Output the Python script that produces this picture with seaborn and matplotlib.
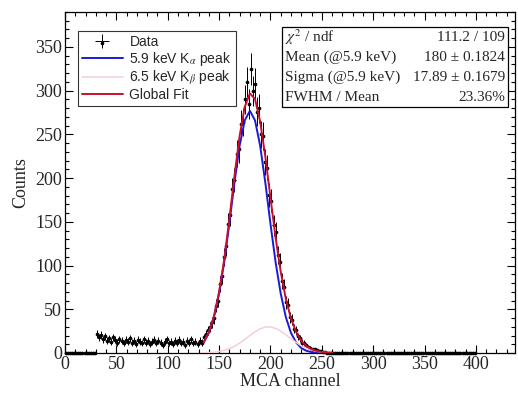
import numpy as np
import pandas as pd
import matplotlib
matplotlib.use("Agg")
import matplotlib.pyplot as plt
from matplotlib.patches import Rectangle
from matplotlib.ticker import MultipleLocator
import seaborn as sns

# MCA spectrum, 2-channel bins (centres 1, 3, ..., 399)
bin_centres = np.arange(1, 400, 2)
counts = [
    0, 0, 0, 0, 0, 0, 0, 0, 0, 0, 0, 0, 0, 0, 0,
    # noise floor, channels 31-135
    22, 18, 21, 16, 19, 14, 17, 13, 18, 15,
    12, 16, 14, 11, 15, 13, 17, 12, 14, 10,
    15, 13, 11, 16, 12, 14, 10, 13, 15, 11,
    14, 12, 9, 13, 16, 11, 13, 10, 14, 12,
    15, 11, 13, 9, 14, 12, 16, 11, 13, 10,
    14, 12, 18,
    # peak, channels 137-255
    22, 26, 30, 35, 40, 54, 60, 79, 88, 110,
    122, 148, 158, 187, 198, 228, 233, 262, 264, 290,
    310, 285, 325, 300, 308, 276, 280, 250, 248, 218,
    212, 181, 174, 146, 138, 112, 104, 82, 76, 58,
    55, 41, 38, 28, 26, 19, 17, 12, 11, 9,
    7, 6, 4, 4, 3, 2, 2, 1, 1, 0,
    # empty, channels 257-399
    0, 0, 0, 0, 0, 0, 0, 0, 0, 0, 0, 0, 0, 0, 0, 0, 0, 0,
    0, 0, 0, 0, 0, 0, 0, 0, 0, 0, 0, 0, 0, 0, 0, 0, 0, 0,
    0, 0, 0, 0, 0, 0, 0, 0, 0, 0, 0, 0, 0, 0, 0, 0, 0, 0,
    0, 0, 0, 0, 0, 0, 0, 0, 0, 0, 0, 0, 0, 0, 0, 0, 0, 0,
]

# fit curves, every 5 channels
fit_channels = [135, 140, 145, 150, 155, 160, 165, 170, 175, 180, 185, 190, 195,
                200, 205, 210, 215, 220, 225, 230, 235, 240, 245, 250, 255, 260]
kalpha_fit = [12, 23, 41, 68, 104, 148, 195, 237, 266, 277, 266, 237, 195,
              148, 104, 68, 41, 23, 12, 5.6, 2.5, 1, 0.4, 0.1, 0, 0]
kbeta_fit = [0.2, 0.45, 0.9, 1.7, 3.0, 4.9, 7.7, 11.3, 15.5, 20, 24.3, 27.7, 29.7,
             29.9, 28.2, 25, 20.9, 16.4, 12.1, 8.3, 5.4, 3.3, 1.9, 1.0, 0.5, 0.25]
global_fit = [12.2, 23.5, 41.9, 69.7, 107, 152.9, 202.7, 248.3, 281.5, 297, 290.3, 264.7, 224.7,
              177.9, 132.2, 93, 61.9, 39.4, 24.1, 13.9, 7.9, 4.3, 2.3, 1.1, 0.5, 0.25]

stat_labels = [r"$\chi^{2}$ / ndf", "Mean (@5.9 keV)", "Sigma (@5.9 keV)", "FWHM / Mean"]
stat_values = ["111.2 / 109", "180 \u00b1 0.1824", "17.89 \u00b1 0.1679", "23.36%"]

spec = pd.DataFrame({"channel": bin_centres, "counts": counts})
fits = pd.DataFrame({"channel": fit_channels, "ka": kalpha_fit,
                     "kb": kbeta_fit, "tot": global_fit})

sns.set_style("ticks")
plt.rcParams["font.family"] = ["Liberation Serif", "DejaVu Serif"]
plt.rcParams["mathtext.fontset"] = "stix"

fig = plt.figure(figsize=(5.18, 3.96), dpi=100)
ax = fig.add_axes([0.1255, 0.1086, 0.8685, 0.8611])

data_h = ax.errorbar(spec["channel"], spec["counts"], yerr=np.sqrt(spec["counts"]),
                     xerr=1, fmt="none", ecolor="black", elinewidth=0.7, zorder=2)
sns.scatterplot(data=spec, x="channel", y="counts", ax=ax, color="black",
                s=7, marker="o", edgecolor="black", linewidth=0, zorder=3, clip_on=False)
pts = ax.collections[-1]

ka_line = sns.lineplot(data=fits, x="channel", y="ka", ax=ax, color="#1a1ad6",
                       lw=1.4, zorder=4).lines[-1]
kb_line = sns.lineplot(data=fits, x="channel", y="kb", ax=ax, color="#f5cddb",
                       lw=1.1, zorder=4).lines[-1]
tot_line = sns.lineplot(data=fits, x="channel", y="tot", ax=ax, color="#c8102e",
                        lw=1.4, zorder=5).lines[-1]

ax.set_xlim(0, 438)
ax.set_ylim(0, 390)
ax.xaxis.set_major_locator(MultipleLocator(50))
ax.xaxis.set_minor_locator(MultipleLocator(10))
ax.yaxis.set_major_locator(MultipleLocator(50))
ax.yaxis.set_minor_locator(MultipleLocator(10))
ax.tick_params(which="both", direction="in", top=True, right=True,
               labelsize=13, pad=2, color="black")
ax.tick_params(which="major", length=6, width=0.8)
ax.tick_params(which="minor", length=3, width=0.8)
for s in ax.spines.values():
    s.set_linewidth(0.9)
    s.set_color("black")

ax.set_xlabel("MCA channel", fontsize=13, labelpad=0)
ax.set_ylabel("Counts", fontsize=13, labelpad=4)

leg = ax.legend([(data_h, pts), ka_line, kb_line, tot_line],
                ["Data", r"5.9 keV K$_\alpha$ peak", r"6.5 keV K$_\beta$ peak", "Global Fit"],
                loc="upper left", bbox_to_anchor=(0.029, 0.944), borderaxespad=0,
                frameon=True, fancybox=False, handlelength=2.9, handletextpad=0.5,
                labelspacing=0.05, borderpad=0.3,
                prop={"family": ["Liberation Sans", "DejaVu Sans"], "size": 10})
leg.get_frame().set_edgecolor("black")
leg.get_frame().set_linewidth(0.8)

# fit statistics box
bx0, bx1, by0, by1 = 0.482, 0.984, 0.721, 0.956
ax.add_patch(Rectangle((bx0, by0), bx1 - bx0, by1 - by0, transform=ax.transAxes,
                       fill=True, facecolor="white", edgecolor="black", lw=0.9, zorder=6))
row_h = (by1 - by0) / len(stat_labels)
for i, (lab, val) in enumerate(zip(stat_labels, stat_values)):
    yc = by1 - row_h * (i + 0.5)
    ax.text(bx0 + 0.006, yc, lab, transform=ax.transAxes, ha="left", va="center",
            fontsize=11, zorder=7)
    ax.text(bx1 - 0.006, yc, val, transform=ax.transAxes, ha="right", va="center",
            fontsize=11, zorder=7)

fig.savefig("out.png", dpi=100)
